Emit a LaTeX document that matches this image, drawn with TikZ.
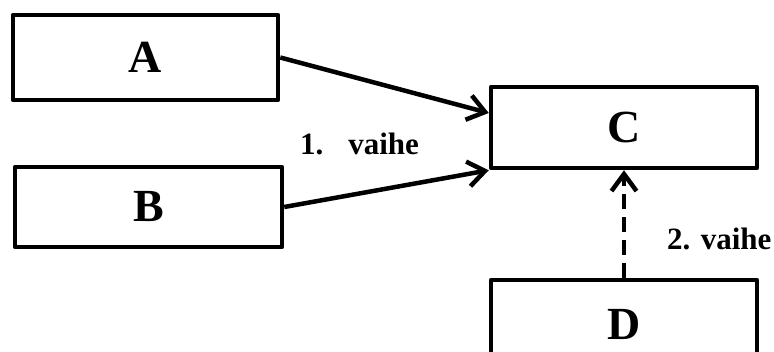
\documentclass[tikz,border=0pt]{standalone}
\usepackage{fontspec}
\setmainfont{Liberation Serif}
\usetikzlibrary{arrows.meta,calc}
\begin{document}
\begin{tikzpicture}[x=1pt,y=-1pt,
  blockbox/.style={draw=black,line width=4.5pt,line join=round,fill=white,
    font=\fontsize{46}{50}\selectfont\bfseries},
  flow/.style={line width=4.5pt,-{Straight Barb[length=17pt,width=25pt,line width=4.5pt]}},
  steplabel/.style={font=\fontsize{31}{36}\selectfont\bfseries,anchor=base west,inner sep=0pt}]
  \useasboundingbox (0,0) rectangle (774,352);
  \clip (0,0) rectangle (774,352);

  % blocks
  \node[blockbox,minimum width=265pt,minimum height=85pt] (A) at (145.5,57.5) {A};
  \node[blockbox,minimum width=267pt,minimum height=80pt] (B) at (148.5,207) {B};
  \node[blockbox,minimum width=266pt,minimum height=81pt] (C) at (624,127.5) {C};
  \node[blockbox,minimum width=266pt,minimum height=100pt,text depth=0pt] (D) at (624,330) {};
  \node[font=\fontsize{46}{50}\selectfont\bfseries] (Dlabel) at (624,324) {D};

  % step 1: A and B into C
  \draw[flow] (A.east) -- ([yshift=14.5pt]C.west);
  \draw[flow] (B.east) -- (C.south west);
  \node[steplabel] (s1) at (300,155) {1.\hspace{0.8em}vaihe};

  % step 2: D into C
  \draw[flow,dash pattern=on 15pt off 8pt] (D.north) -- (C.south);
  \node[steplabel] (s2) at (667,250) {2. vaihe};
\end{tikzpicture}
\end{document}
